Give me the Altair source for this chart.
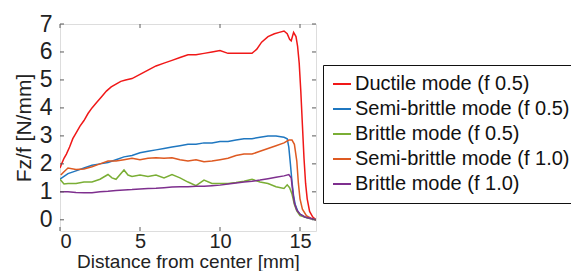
import altair as alt
import pandas as pd

series_names = [
    "Ductile mode (f 0.5)",
    "Semi-brittle mode (f 0.5)",
    "Brittle mode (f 0.5)",
    "Semi-brittle mode (f 1.0)",
    "Brittle mode (f 1.0)",
]
series_colors = ["#F01818", "#1F77C0", "#7AAE35", "#DE5A22", "#7E2F8E"]

ductile_x = [0, 0.1, 0.25, 0.4, 0.6, 0.8, 1.0, 1.25, 1.5, 1.75, 2.0, 2.3, 2.6, 2.9, 3.2, 3.5, 3.8, 4.1, 4.5, 5.0, 5.5, 6.0, 6.5, 7.0, 7.5, 8.0, 8.5, 9.0, 9.5, 10.0, 10.5, 11.0, 11.5, 12.0, 12.3, 12.6, 13.0, 13.4, 13.7, 14.0, 14.2, 14.35, 14.45, 14.6, 14.75, 14.85, 14.95, 15.05, 15.15, 15.25, 15.35, 15.45, 15.6, 15.8, 16.0]
ductile_y = [1.85, 2.0, 2.2, 2.35, 2.6, 2.9, 3.1, 3.35, 3.55, 3.8, 4.0, 4.2, 4.4, 4.6, 4.75, 4.85, 4.95, 5.0, 5.05, 5.2, 5.35, 5.5, 5.6, 5.7, 5.8, 5.9, 5.9, 5.95, 6.0, 6.05, 5.95, 5.95, 5.95, 5.95, 6.1, 6.35, 6.55, 6.65, 6.7, 6.75, 6.65, 6.45, 6.4, 6.7, 6.55, 6.2, 5.6, 4.6, 3.4, 2.2, 1.3, 0.75, 0.3, 0.1, 0.0]

semi05_x = [0, 0.25, 0.5, 1.0, 1.5, 2.0, 2.5, 3.0, 3.5, 4.0, 4.5, 5.0, 5.5, 6.0, 6.5, 7.0, 7.5, 8.0, 8.5, 9.0, 9.5, 10.0, 10.5, 11.0, 11.5, 12.0, 12.5, 13.0, 13.5, 14.0, 14.2, 14.3, 14.4, 14.5, 14.6, 14.7, 14.85, 15.0, 15.3, 15.6, 16.0]
semi05_y = [1.45, 1.55, 1.65, 1.75, 1.85, 1.95, 2.0, 2.05, 2.15, 2.25, 2.3, 2.4, 2.45, 2.5, 2.55, 2.6, 2.65, 2.7, 2.7, 2.75, 2.75, 2.8, 2.8, 2.85, 2.9, 2.9, 2.95, 3.0, 3.0, 2.95, 2.9, 2.6, 2.0, 1.35, 0.85, 0.55, 0.32, 0.2, 0.1, 0.05, 0.0]

brit05_x = [0, 0.25, 0.5, 1.0, 1.5, 2.0, 2.5, 3.0, 3.25, 3.5, 4.0, 4.25, 4.5, 5.0, 5.5, 6.0, 6.5, 7.0, 7.5, 8.0, 8.5, 9.0, 9.5, 10.0, 10.5, 11.0, 11.5, 12.0, 12.5, 13.0, 13.5, 14.0, 14.2, 14.35, 14.5, 14.65, 14.8, 15.0, 15.4, 16.0]
brit05_y = [1.45, 1.28, 1.3, 1.3, 1.35, 1.35, 1.45, 1.62, 1.5, 1.45, 1.78, 1.6, 1.55, 1.6, 1.55, 1.6, 1.5, 1.62, 1.5, 1.35, 1.22, 1.42, 1.3, 1.3, 1.3, 1.33, 1.38, 1.45, 1.35, 1.3, 1.18, 1.12, 1.25, 1.15, 0.92, 0.55, 0.32, 0.15, 0.08, 0.0]

semi10_x = [0.05, 0.25, 0.5, 1.0, 1.5, 2.0, 2.5, 3.0, 3.5, 4.0, 4.5, 5.0, 5.5, 6.0, 6.5, 7.0, 7.5, 8.0, 8.5, 9.0, 9.5, 10.0, 10.5, 11.0, 11.5, 12.0, 12.5, 13.0, 13.5, 14.0, 14.3, 14.5, 14.65, 14.8, 14.9, 15.0, 15.15, 15.4, 15.7, 16.0]
semi10_y = [1.6, 1.72, 1.85, 1.8, 1.82, 1.9, 2.0, 2.1, 2.1, 2.15, 2.2, 2.15, 2.2, 2.22, 2.2, 2.22, 2.15, 2.1, 2.15, 2.08, 2.1, 2.15, 2.2, 2.3, 2.35, 2.35, 2.45, 2.55, 2.65, 2.75, 2.85, 2.85, 2.7, 2.1, 1.3, 0.75, 0.38, 0.15, 0.05, 0.0]

brit10_x = [0, 0.5, 1.0, 1.5, 2.0, 2.5, 3.0, 3.5, 4.0, 4.5, 5.0, 5.5, 6.0, 6.5, 7.0, 7.5, 8.0, 8.5, 9.0, 9.5, 10.0, 10.5, 11.0, 11.5, 12.0, 12.5, 13.0, 13.5, 14.0, 14.3, 14.45, 14.55, 14.65, 14.8, 15.0, 15.3, 15.7, 16.0]
brit10_y = [1.0, 1.0, 0.98, 0.97, 0.97, 1.0, 1.02, 1.05, 1.07, 1.08, 1.1, 1.12, 1.13, 1.15, 1.17, 1.18, 1.18, 1.2, 1.2, 1.22, 1.24, 1.28, 1.32, 1.35, 1.38, 1.42, 1.47, 1.52, 1.57, 1.62, 1.5, 1.0, 0.6, 0.35, 0.2, 0.1, 0.05, 0.0]

x_ticks = [0, 5, 10, 15]
y_ticks = [0, 1, 2, 3, 4, 5, 6, 7]

rows = []
for name, xs, ys in zip(series_names,
                        [ductile_x, semi05_x, brit05_x, semi10_x, brit10_x],
                        [ductile_y, semi05_y, brit05_y, semi10_y, brit10_y]):
    for i, (a, b) in enumerate(zip(xs, ys)):
        rows.append({"series": name, "x": a, "y": b, "i": i})
df = pd.DataFrame(rows)

W, H = 256, 207
FONT = "Liberation Sans"
FRAME = "#5a5a5a"

xscale = alt.Scale(domain=[0, 16], nice=False, zero=False)
yscale = alt.Scale(domain=[-0.4, 7], nice=False, zero=False)

xa = alt.Axis(values=x_ticks, title="Distance from center [mm]",
              grid=False, ticks=False, domain=False, labelOverlap=False,
              labelFontSize=20, titleFontSize=19, labelPadding=0,
              titleY=36, titleBaseline="alphabetic",
              labelFont=FONT, titleFont=FONT,
              labelColor="#222", titleColor="#222", titleFontWeight="normal")
ya = alt.Axis(values=y_ticks, title="Fz/f [N/mm]",
              grid=False, ticks=False, domain=False, labelOverlap=False,
              labelFontSize=23, titleFontSize=21, labelPadding=8,
              titlePadding=5, labelFont=FONT, titleFont=FONT,
              labelColor="#222", titleColor="#222", titleFontWeight="normal")

lines = alt.Chart(df).mark_line(strokeWidth=1.5, clip=True).encode(
    x=alt.X("x:Q", scale=xscale, axis=xa),
    y=alt.Y("y:Q", scale=yscale, axis=ya),
    color=alt.Color("series:N",
                    scale=alt.Scale(domain=series_names, range=series_colors),
                    sort=series_names,
                    legend=alt.Legend(title=None, orient="none", legendX=263, legendY=41,
                                      symbolType="stroke", symbolSize=324, symbolStrokeWidth=2,
                                      labelFontSize=20, labelFont=FONT, labelColor="#111",
                                      labelLimit=400, rowPadding=5, padding=9,
                                      strokeColor="#111", fillColor="white", labelOffset=3)),
    order="i:Q",
)

ydf = pd.DataFrame({"v": y_ticks})
xdf = pd.DataFrame({"v": x_ticks})

yl = alt.Chart(ydf).mark_rule(color=FRAME, strokeWidth=1).encode(
    y=alt.Y("v:Q", scale=yscale, axis=ya), x=alt.value(0), x2=alt.value(4))
yr = alt.Chart(ydf).mark_rule(color=FRAME, strokeWidth=1).encode(
    y=alt.Y("v:Q", scale=yscale, axis=ya), x=alt.value(W - 4), x2=alt.value(W))
xb = alt.Chart(xdf).mark_rule(color=FRAME, strokeWidth=1).encode(
    x=alt.X("v:Q", scale=xscale, axis=xa), y=alt.value(H - 4), y2=alt.value(H))
xt = alt.Chart(xdf).mark_rule(color=FRAME, strokeWidth=1).encode(
    x=alt.X("v:Q", scale=xscale, axis=xa), y=alt.value(0), y2=alt.value(4))

chart = alt.layer(lines, yl, yr, xb, xt).properties(
    width=W, height=H,
    autosize=alt.AutoSizeParams(type="none"),
    padding={"left": 52, "top": 16, "right": 255, "bottom": 40},
).configure_view(stroke=FRAME, strokeWidth=1.5).configure(background="white")

chart.save("out.html", embed_options={"renderer": "svg", "actions": False})
